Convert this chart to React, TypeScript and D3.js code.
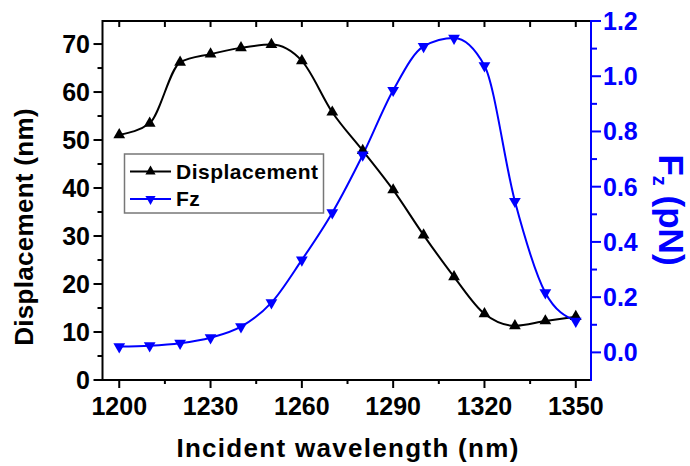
import React, { useRef, useEffect } from 'react';
import * as d3 from 'd3';

const wavelengths = [1200, 1210, 1220, 1230, 1240, 1250, 1260, 1270, 1280, 1290, 1300, 1310, 1320, 1330, 1340, 1350];
const displacement = [51.1, 53.5, 66.2, 67.9, 69.2, 69.9, 66.5, 55.8, 47.8, 39.6, 30.2, 21.5, 13.8, 11.3, 12.3, 13.2];
const fz = [0.021, 0.024, 0.033, 0.053, 0.093, 0.18, 0.335, 0.506, 0.715, 0.949, 1.108, 1.138, 1.038, 0.547, 0.216, 0.113];

const xTicks = [1200, 1230, 1260, 1290, 1320, 1350];
const xMinor = [1215, 1245, 1275, 1305, 1335];
const leftTicks = [0, 10, 20, 30, 40, 50, 60, 70];
const leftMinor = [5, 15, 25, 35, 45, 55, 65];
const rightTicks = [0, 0.2, 0.4, 0.6, 0.8, 1.0, 1.2];
const rightMinor = [0.1, 0.3, 0.5, 0.7, 0.9, 1.1];

const BLUE = '#0000ff';
const FONT = '"Liberation Sans", Arial, sans-serif';

function DisplacementChart() {
  const svgRef = useRef(null);

  useEffect(() => {
    const svg = d3.select(svgRef.current);
    svg.selectAll('*').remove();

    const left = 102.5, right = 591, top = 21, bottom = 380;

    const x = d3.scaleLinear().domain([1194.5, 1355]).range([left, right]);
    const yL = d3.scaleLinear().domain([0, 74.8]).range([bottom, top]);
    const yR = d3.scaleLinear().domain([-0.1, 1.2]).range([bottom, top]);

    const g = svg.append('g');

    // ticks
    const tick = (x1, y1, x2, y2, color) =>
      g.append('line').attr('x1', x1).attr('y1', y1).attr('x2', x2).attr('y2', y2)
        .attr('stroke', color).attr('stroke-width', 2);

    xTicks.forEach((t) => {
      tick(x(t), bottom, x(t), bottom + 8, '#000');
      tick(x(t), top, x(t), top + 6, '#000');
    });
    xMinor.forEach((t) => {
      tick(x(t), bottom, x(t), bottom + 4, '#000');
      tick(x(t), top, x(t), top + 6, '#000');
    });
    leftTicks.forEach((t) => tick(left - 9, yL(t), left, yL(t), '#000'));
    leftMinor.forEach((t) => tick(left - 5, yL(t), left, yL(t), '#000'));
    rightTicks.forEach((t) => tick(right, yR(t), right + 10, yR(t), BLUE));
    rightMinor.forEach((t) => tick(right, yR(t), right + 6, yR(t), BLUE));

    // frame
    tick(left, top, right, top, '#000');
    tick(left, top - 1, left, bottom + 1, '#000');
    tick(left - 1, bottom, right, bottom, '#000');
    tick(right, top - 1, right, bottom + 1, BLUE);

    // tick labels
    const label = (tx, ty, text, anchor, color) =>
      g.append('text').attr('x', tx).attr('y', ty).text(text)
        .attr('text-anchor', anchor).attr('fill', color)
        .attr('font-family', FONT).attr('font-weight', 'bold').attr('font-size', 25);

    xTicks.forEach((t) => label(x(t), 415, t, 'middle', '#000'));
    leftTicks.forEach((t) => label(90, yL(t) + 9, t, 'end', '#000'));
    rightTicks.forEach((t) => label(603, yR(t) + 9, d3.format('.1f')(t), 'start', BLUE));

    // axis titles
    g.append('text').text('Incident wavelength (nm)')
      .attr('x', 348).attr('y', 457).attr('text-anchor', 'middle')
      .attr('letter-spacing', 1.3)
      .attr('font-family', FONT).attr('font-weight', 'bold').attr('font-size', 26);

    g.append('text').text('Displacement (nm)')
      .attr('transform', 'translate(33,227) rotate(-90)').attr('text-anchor', 'middle')
      .attr('letter-spacing', 0.3)
      .attr('font-family', FONT).attr('font-weight', 'bold').attr('font-size', 26);

    const rt = g.append('text')
      .attr('transform', 'translate(659,210) rotate(90)').attr('text-anchor', 'middle')
      .attr('fill', BLUE)
      .attr('font-family', FONT).attr('font-weight', 'bold').attr('font-size', 35);
    rt.append('tspan').text('F');
    rt.append('tspan').text('z').attr('font-size', 20).attr('dy', 6);
    rt.append('tspan').text(' (pN)').attr('dy', -6);

    // curves
    const lineL = d3.line()
      .x((d, i) => x(wavelengths[i]))
      .y((d) => yL(d))
      .curve(d3.curveMonotoneX);
    const lineR = d3.line()
      .x((d, i) => x(wavelengths[i]))
      .y((d) => yR(d))
      .curve(d3.curveMonotoneX);

    g.append('path').attr('d', lineL(displacement))
      .attr('fill', 'none').attr('stroke', '#000').attr('stroke-width', 2);
    g.append('path').attr('d', lineR(fz))
      .attr('fill', 'none').attr('stroke', BLUE).attr('stroke-width', 2);

    const tri = d3.symbol().type(d3.symbolTriangle).size(60);

    g.selectAll('.mk-d').data(displacement).join('path')
      .attr('d', tri)
      .attr('transform', (d, i) => `translate(${x(wavelengths[i])},${yL(d)})`)
      .attr('fill', '#000');
    g.selectAll('.mk-f').data(fz).join('path')
      .attr('d', tri)
      .attr('transform', (d, i) => `translate(${x(wavelengths[i])},${yR(d)}) rotate(180)`)
      .attr('fill', BLUE);

    // legend
    const lg = g.append('g');
    lg.append('rect').attr('x', 124.5).attr('y', 154).attr('width', 199).attr('height', 59)
      .attr('fill', 'white').attr('stroke', '#777').attr('stroke-width', 1.5);
    const rows = [
      { name: 'Displacement', color: '#000', rot: 0, y: 171.5 },
      { name: 'Fz', color: BLUE, rot: 180, y: 199 },
    ];
    rows.forEach((r) => {
      lg.append('line').attr('x1', 130).attr('x2', 171).attr('y1', r.y).attr('y2', r.y)
        .attr('stroke', r.color).attr('stroke-width', 2);
      lg.append('path').attr('d', d3.symbol().type(d3.symbolTriangle).size(45)())
        .attr('transform', `translate(150.5,${r.y}) rotate(${r.rot})`).attr('fill', r.color);
      lg.append('text').text(r.name).attr('x', 176).attr('y', r.y + 7)
        .attr('letter-spacing', 0.5)
        .attr('font-family', FONT).attr('font-weight', 'bold').attr('font-size', 21);
    });
  }, []);

  return (
    <svg ref={svgRef} width={690} height={466}
      style={{ position: 'absolute', left: 0, top: 0, background: '#fff' }} />
  );
}

export default function App() {
  return <DisplacementChart />;
}
